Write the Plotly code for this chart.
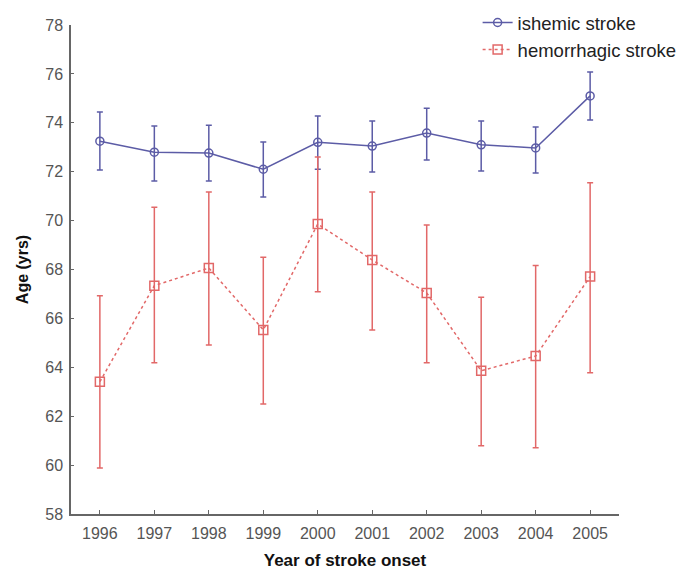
import plotly.graph_objects as go

years = [1996, 1997, 1998, 1999, 2000, 2001, 2002, 2003, 2004, 2005]

isch_mean = [73.25, 72.8, 72.76, 72.1, 73.2, 73.05, 73.58, 73.1, 72.97, 75.1]
isch_upper = [74.44, 73.87, 73.9, 73.21, 74.28, 74.07, 74.6, 74.07, 73.83, 76.08]
isch_lower = [72.07, 71.62, 71.62, 70.97, 72.1, 71.99, 72.48, 72.03, 71.95, 74.11]

hem_mean = [63.41, 67.34, 68.06, 65.53, 69.86, 68.39, 67.04, 63.86, 64.46, 67.71]
hem_upper = [66.93, 70.55, 71.17, 68.5, 72.6, 71.17, 69.82, 66.86, 68.16, 71.55]
hem_lower = [59.88, 64.19, 64.91, 62.5, 67.09, 65.53, 64.19, 60.79, 60.71, 63.78]

y_ticks = [58, 60, 62, 64, 66, 68, 70, 72, 74, 76, 78]

blue = "#5c5ca6"
red = "#e26868"

fig = go.Figure()
fig.add_trace(go.Scatter(
    x=years, y=isch_mean, name="ishemic stroke", mode="lines+markers",
    line=dict(color=blue, width=1.5),
    marker=dict(symbol="circle-open", size=8, color=blue, line=dict(width=1.5)),
    error_y=dict(type="data", symmetric=False,
                 array=[u - m for u, m in zip(isch_upper, isch_mean)],
                 arrayminus=[m - l for m, l in zip(isch_mean, isch_lower)],
                 color=blue, thickness=1.5, width=3),
))
fig.add_trace(go.Scatter(
    x=years, y=hem_mean, name="hemorrhagic stroke", mode="lines+markers",
    line=dict(color=red, width=1.5, dash="dot"),
    marker=dict(symbol="square-open", size=9, color=red, line=dict(width=1.5)),
    error_y=dict(type="data", symmetric=False,
                 array=[u - m for u, m in zip(hem_upper, hem_mean)],
                 arrayminus=[m - l for m, l in zip(hem_mean, hem_lower)],
                 color=red, thickness=1.5, width=3),
))

fig.update_layout(
    width=687, height=562,
    margin=dict(l=63, r=76, t=17, b=56, autoexpand=False),
    paper_bgcolor="white", plot_bgcolor="white",
    font=dict(family="Liberation Sans, Arial, sans-serif", size=16, color="#555555"),
    legend=dict(x=0.742, y=1.043, xanchor="left", yanchor="top",
                font=dict(size=18.5, color="#222222"), bgcolor="rgba(0,0,0,0)",
                itemwidth=30, tracegroupgap=2),
    xaxis=dict(range=[1995.47, 2005.53], tickmode="array", tickvals=years,
               ticktext=[str(y) for y in years], tickfont=dict(size=16),
               ticklabelstandoff=4,
               showgrid=False, zeroline=False, showline=True, linecolor="#666666",
               linewidth=1.5, ticks="inside", ticklen=4, tickcolor="#666666",
               automargin=False,
               title=dict(text="<b>Year of stroke onset</b>",
                          font=dict(size=17, color="#111111"), standoff=19)),
    yaxis=dict(range=[58, 78], tickmode="array", tickvals=y_ticks,
               tickfont=dict(size=16), ticklabelstandoff=3,
               showgrid=False, zeroline=False, showline=True, linecolor="#666666",
               linewidth=1.5, ticks="inside", ticklen=3, tickcolor="#666666",
               automargin=False,
               title=dict(text="<b>Age (yrs)</b>",
                          font=dict(size=16, color="#111111"), standoff=13)),
)

fig.write_html("out.html")
